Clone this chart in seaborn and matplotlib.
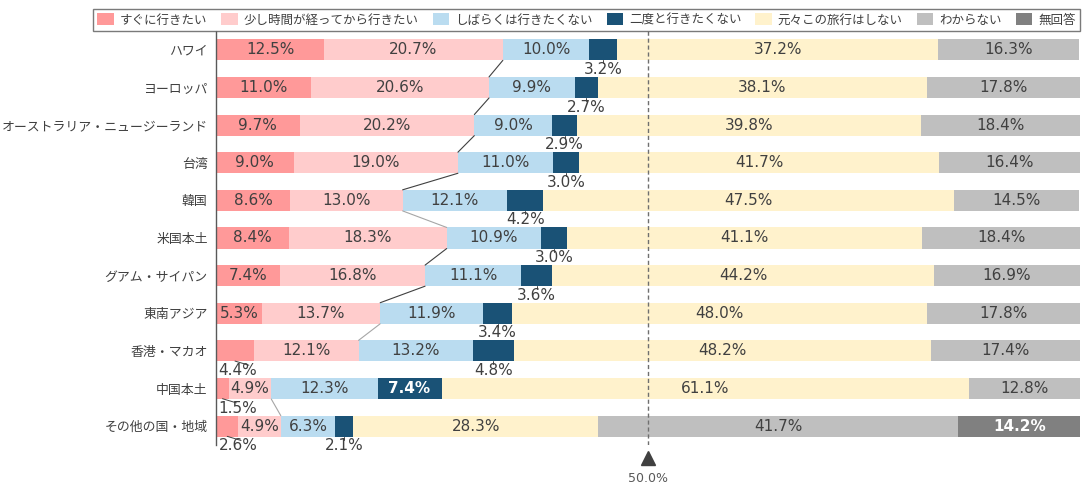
import numpy as np
import pandas as pd
import matplotlib
matplotlib.use('Agg')
import matplotlib.pyplot as plt
from matplotlib.patches import Patch
import seaborn as sns

regions = ['ハワイ', 'ヨーロッパ', 'オーストラリア・ニュージーランド', '台湾', '韓国', '米国本土',
           'グアム・サイパン', '東南アジア', '香港・マカオ', '中国本土', 'その他の国・地域']
answers = ['すぐに行きたい', '少し時間が経ってから行きたい', 'しばらくは行きたくない',
           '二度と行きたくない', '元々この旅行はしない', 'わからない', '無回答']

go_now = [12.5, 11.0, 9.7, 9.0, 8.6, 8.4, 7.4, 5.3, 4.4, 1.5, 2.6]
go_later = [20.7, 20.6, 20.2, 19.0, 13.0, 18.3, 16.8, 13.7, 12.1, 4.9, 4.9]
not_for_now = [10.0, 9.9, 9.0, 11.0, 12.1, 10.9, 11.1, 11.9, 13.2, 12.3, 6.3]
never_again = [3.2, 2.7, 2.9, 3.0, 4.2, 3.0, 3.6, 3.4, 4.8, 7.4, 2.1]
no_plan = [37.2, 38.1, 39.8, 41.7, 47.5, 41.1, 44.2, 48.0, 48.2, 61.1, 28.3]
dont_know = [16.3, 17.8, 18.4, 16.4, 14.5, 18.4, 16.9, 17.8, 17.4, 12.8, 41.7]
no_answer = [0, 0, 0, 0, 0, 0, 0, 0, 0, 0, 14.2]

colors = ['#FF9999', '#FFCCCC', '#BADCF0', '#1A5276', '#FFF2CC', '#BFBFBF', '#808080']

sns.set_style('white')
plt.rcParams['font.family'] = ['Noto Sans CJK JP', 'DejaVu Sans']
txt = '#404040'
num_font = 'DejaVu Sans'

series = [go_now, go_later, not_for_now, never_again, no_plan, dont_know, no_answer]
vals = np.array(series)            # (7, 11)
cum = np.cumsum(vals, axis=0)
df = pd.DataFrame({'region': regions})
for i in range(len(answers)):
    df['cum%d' % i] = cum[i]

fig = plt.figure(figsize=(10.84, 4.92), dpi=100)
ax = fig.add_axes([216 / 1084, 1 - 445 / 492, 864 / 1084, 414 / 492])

# stacked bars: draw cumulative totals from the last segment back to the first
for i in reversed(range(len(answers))):
    sns.barplot(data=df, x='cum%d' % i, y='region', color=colors[i], width=0.56,
                orient='h', linewidth=0, saturation=1, ax=ax)

n = len(regions)
for r in range(n):
    for i in range(len(answers)):
        v = vals[i, r]
        if v <= 0:
            continue
        c = cum[i, r] - v / 2
        lab = '%.1f%%' % v
        if i == 0 and v < 5:
            ax.plot([c, c + 1.6], [r + 0.27, r + 0.38], color='#404040', lw=0.7)
            ax.text(0.3, r + 0.52, lab, ha='left', va='center', fontsize=11, color=txt,
                    family=num_font)
        elif i == 3 and v < 5:
            ax.plot([c, c], [r + 0.28, r + 0.36], color='#404040', lw=0.7)
            ax.text(c, r + 0.52, lab, ha='center', va='center', fontsize=11, color=txt,
                    family=num_font)
        elif (i == 3) or (i == 6):
            ax.text(c, r, lab, ha='center', va='center', fontsize=11, color='white',
                    fontweight='bold', family=num_font)
        else:
            ax.text(c, r, lab, ha='center', va='center', fontsize=11, color=txt,
                    family=num_font)

# connector lines between rows at the end of the second segment
light = {4, 7, 9}
for r in range(n - 1):
    if r == 8:
        continue
    x0, x1 = cum[1, r], cum[1, r + 1]
    lc = '#A6A6A6' if r in light else '#404040'
    ax.plot([x0, x1], [r + 0.28, r + 1 - 0.28], color=lc, lw=0.8)

ax.axvline(50, color='#6F6F6F', lw=1, ls=(0, (3, 2)))
ax.plot([50], [10.84], marker='^', markersize=10, color='#404040', clip_on=False)
ax.text(50, 11.38, '50.0%', ha='center', va='center', fontsize=9, color='#595959',
        clip_on=False, family=num_font)

ax.set_xlim(0, 100)
ax.set_ylim(10.5, -0.5)
ax.set_xlabel('')
ax.set_ylabel('')
ax.set_xticks([])
ax.tick_params(axis='y', length=0, pad=6, labelsize=9.3, labelcolor=txt)
for s in ['top', 'right', 'bottom']:
    ax.spines[s].set_visible(False)
ax.spines['left'].set_color('#595959')
ax.spines['left'].set_linewidth(1)

handles = [Patch(facecolor=colors[i], edgecolor='none', label=answers[i]) for i in range(len(answers))]
leg = fig.legend(handles=handles, loc='lower left', ncol=7, mode='expand',
                 bbox_to_anchor=(93 / 1084, 1 - 31 / 492, 987 / 1084, 23 / 492),
                 fontsize=9, frameon=True, fancybox=False, handlelength=1.3,
                 handleheight=1.1, handletextpad=0.5, borderpad=0.35, borderaxespad=0)
leg.get_frame().set_edgecolor('#595959')
leg.get_frame().set_linewidth(1)
for t in leg.get_texts():
    t.set_color(txt)

fig.savefig('out.png', dpi=100)
